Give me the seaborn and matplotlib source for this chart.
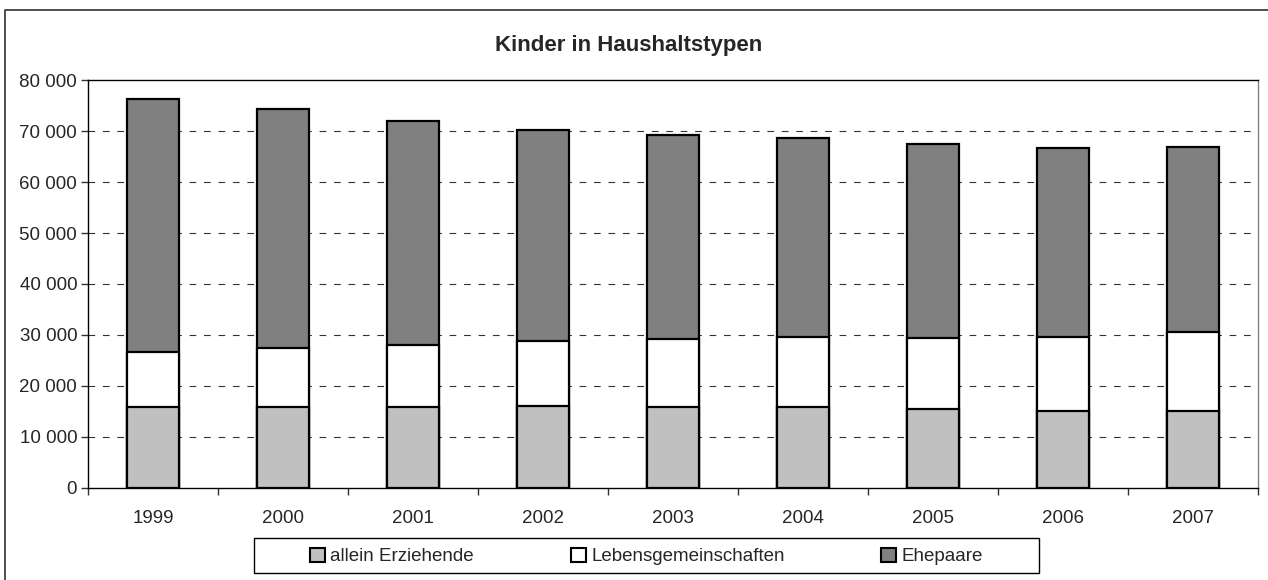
import matplotlib
matplotlib.use("Agg")
import matplotlib.pyplot as plt
from matplotlib.lines import Line2D
from matplotlib.patches import Patch, Rectangle
from matplotlib.ticker import FuncFormatter, FixedLocator
import seaborn as sns
import pandas as pd

# Kinder nach Haushaltstyp, 1999-2007
years = ["1999", "2000", "2001", "2002", "2003", "2004", "2005", "2006", "2007"]
allein_erziehende = [15760, 15820, 15820, 16090, 15820, 15820, 15430, 15100, 15100]
lebensgemeinschaften = [10960, 11690, 12280, 12670, 13460, 13790, 13920, 14580, 15560]
ehepaare = [49620, 46790, 43860, 41500, 39920, 39020, 38100, 37050, 36200]
series_names = ["allein Erziehende", "Lebensgemeinschaften", "Ehepaare"]
series_colors = ["#C0C0C0", "#FFFFFF", "#808080"]

sns.set_style("white")
plt.rcParams["font.family"] = ["Liberation Sans", "DejaVu Sans"]

df = pd.DataFrame({
    "Jahr": years,
    "allein": allein_erziehende,
    "lebens": lebensgemeinschaften,
    "ehe": ehepaare,
})
df["cum1"] = df["allein"]
df["cum2"] = df["allein"] + df["lebens"]
df["cum3"] = df["cum2"] + df["ehe"]

W, H = 1268, 580
fig = plt.figure(figsize=(W / 100, H / 100), dpi=100)
ax = fig.add_axes([88.3 / W, 1 - 487.7 / H, (1258 - 88.3) / W, (487.7 - 80.3) / H])

# stacked bars: draw cumulative totals from the top layer down
for col, color in zip(["cum3", "cum2", "cum1"], series_colors[::-1]):
    sns.barplot(data=df, x="Jahr", y=col, color=color, width=0.4,
                edgecolor="black", linewidth=1.6, saturation=1, ax=ax, zorder=3)

ax.set_xlim(-0.5, len(years) - 0.5)
ax.set_ylim(0, 80000)
ax.set_yticks(range(0, 80001, 10000))
ax.yaxis.set_major_formatter(FuncFormatter(lambda v, p: f"{int(v):,}".replace(",", " ")))
ax.set_xlabel("")
ax.set_ylabel("")

# dashed gridlines
for v in range(10000, 80000, 10000):
    ax.axhline(v, color="#333333", lw=0.8, ls=(0, (6, 7)), zorder=1)

# x ticks sit between categories
ax.xaxis.set_minor_locator(FixedLocator([i - 0.5 for i in range(len(years) + 1)]))
ax.tick_params(axis="x", which="major", length=0, pad=16, labelsize=13.5)
ax.tick_params(axis="x", which="minor", length=5, width=1, color="#333333", direction="out")
ax.tick_params(axis="y", length=5, width=1, color="#333333", direction="out", pad=3, labelsize=13.5)
ax.yaxis.tick_left()
ax.xaxis.tick_bottom()

for side in ["left", "bottom", "top"]:
    ax.spines[side].set_color("black")
    ax.spines[side].set_linewidth(1.0)
ax.spines["right"].set_color("#808080")
ax.spines["right"].set_linewidth(1.0)

fig.text(629 / W, 1 - 45 / H, "Kinder in Haushaltstypen", ha="center", va="center",
         fontsize=16, fontweight="bold")

handles = [Patch(facecolor=c, edgecolor="black", linewidth=1.5) for c in series_colors]
leg = fig.legend(handles, series_names, loc="center", ncol=3,
                 bbox_to_anchor=(646.5 / W, 1 - 556.5 / H), bbox_transform=fig.transFigure,
                 fontsize=13.5, frameon=False,
                 handlelength=0.8, handleheight=0.8, handletextpad=0.3,
                 columnspacing=5.15, borderpad=0.3, borderaxespad=0)

# legend box, wider than its entries
fig.add_artist(Rectangle((254 / W, 1 - 573 / H), (1039 - 254) / W, 35 / H,
                         transform=fig.transFigure, facecolor="none",
                         edgecolor="black", linewidth=1.0))

# chart area outline (left and top edges)
fig.add_artist(Line2D([4.7 / W, 4.7 / W, 1.0], [0.0, 1 - 9.5 / H, 1 - 9.5 / H],
                      transform=fig.transFigure, color="#404040", lw=1.3))

fig.savefig("out.png", dpi=100)
